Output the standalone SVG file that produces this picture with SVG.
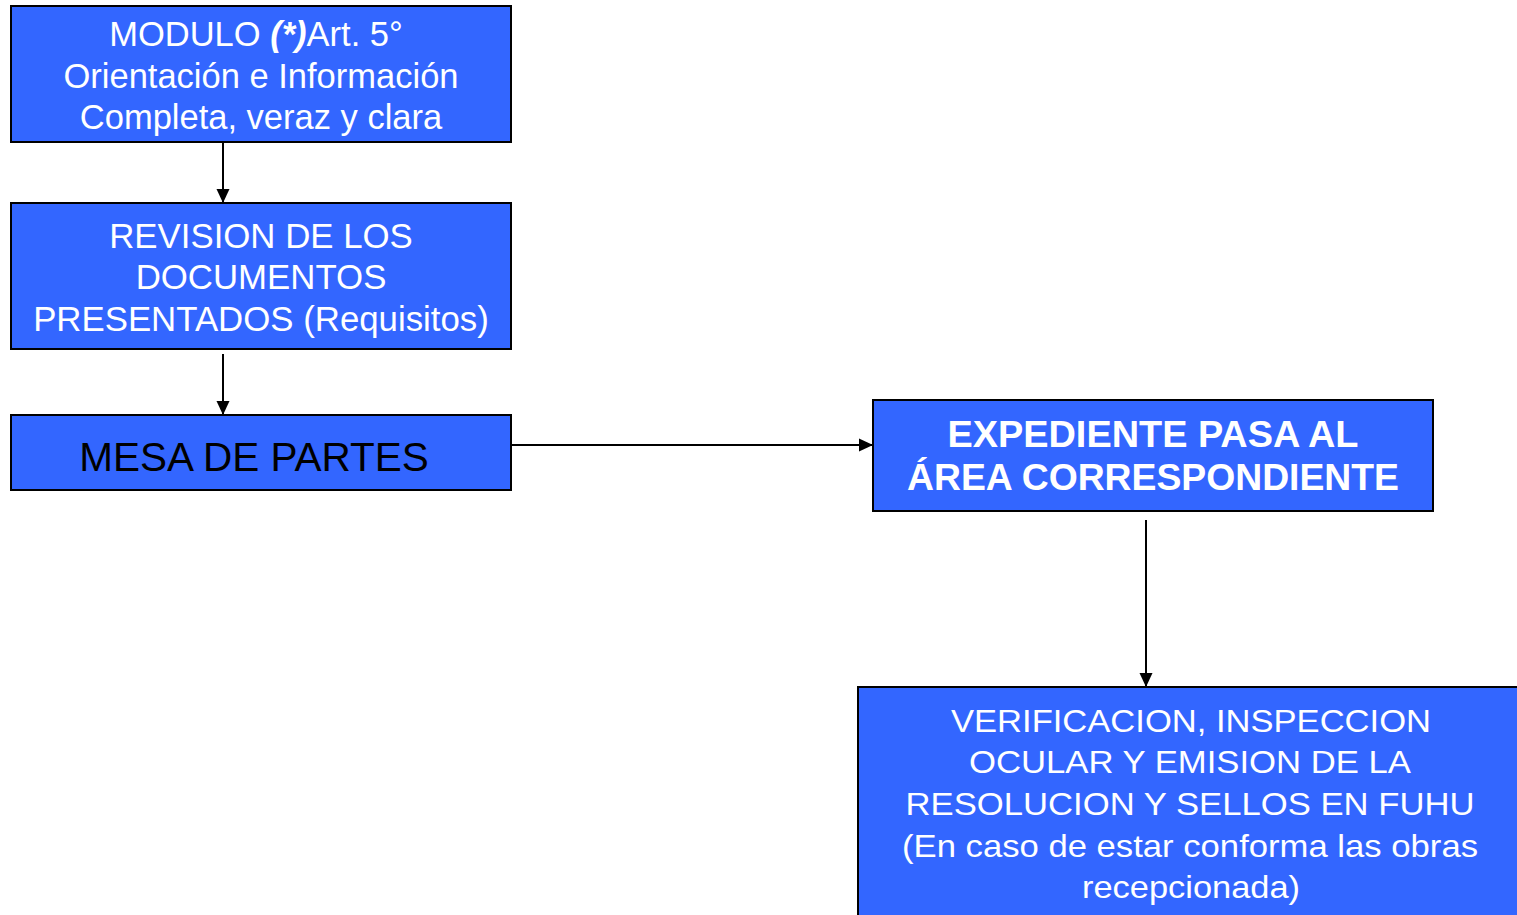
<svg xmlns="http://www.w3.org/2000/svg" width="1517" height="915" viewBox="0 0 1517 915">
<defs>
<style>
.box{fill:#3366FF;stroke:#000;stroke-width:2}
.t{font-family:"Liberation Sans",Arial,sans-serif;fill:#fff;text-anchor:middle}
.con{stroke:#000;stroke-width:2;fill:none}
</style>
<marker id="ah" markerWidth="14" markerHeight="14" refX="14" refY="7" orient="auto" markerUnits="userSpaceOnUse" viewBox="0 0 14 14">
<path d="M0,0.5 L14,7 L0,13.5 z" fill="#000"/>
</marker>
</defs>
<rect width="1517" height="915" fill="#fff"/>
<g id="n1">
<rect class="box" x="11" y="6" width="500" height="136"/>
<text class="t" x="256" y="46" font-size="34.5">MODULO <tspan font-weight="bold" font-style="italic">(*)</tspan>Art. 5°</text>
<text class="t" x="261" y="88" font-size="34.5">Orientación e Información</text>
<text class="t" x="261" y="129" font-size="34.5">Completa, veraz y clara</text>
</g>
<g id="n2">
<rect class="box" x="11" y="203" width="500" height="146"/>
<text class="t" x="261" y="248" font-size="34.8">REVISION DE LOS</text>
<text class="t" x="261" y="289" font-size="34.8">DOCUMENTOS</text>
<text class="t" x="261" y="331" font-size="34.8">PRESENTADOS (Requisitos)</text>
</g>
<g id="n3">
<rect class="box" x="11" y="415" width="500" height="75"/>
<text class="t" x="254" y="471" font-size="40.5" style="fill:#000">MESA DE PARTES</text>
</g>
<g id="n4">
<rect class="box" x="873" y="400" width="560" height="111"/>
<text class="t" x="1153" y="447" font-size="37" font-weight="bold" textLength="411" lengthAdjust="spacingAndGlyphs">EXPEDIENTE PASA AL</text>
<text class="t" x="1153" y="490" font-size="37" font-weight="bold" textLength="492" lengthAdjust="spacingAndGlyphs">ÁREA CORRESPONDIENTE</text>
</g>
<g id="n5">
<rect class="box" x="858" y="687" width="662" height="232"/>
<text class="t" x="1191" y="732" font-size="32" textLength="480" lengthAdjust="spacingAndGlyphs">VERIFICACION, INSPECCION</text>
<text class="t" x="1190" y="773" font-size="32" textLength="442" lengthAdjust="spacingAndGlyphs">OCULAR Y EMISION DE LA</text>
<text class="t" x="1190" y="815" font-size="32" textLength="569" lengthAdjust="spacingAndGlyphs">RESOLUCION Y SELLOS EN FUHU</text>
<text class="t" x="1190" y="857" font-size="32" textLength="576" lengthAdjust="spacingAndGlyphs">(En caso de estar conforma las obras</text>
<text class="t" x="1191" y="898" font-size="32" textLength="218" lengthAdjust="spacingAndGlyphs">recepcionada)</text>
</g>
<g id="connectors">
<line class="con" x1="223" y1="143" x2="223" y2="203" marker-end="url(#ah)"/>
<line class="con" x1="223" y1="354" x2="223" y2="415" marker-end="url(#ah)"/>
<line class="con" x1="512" y1="445" x2="873" y2="445" marker-end="url(#ah)"/>
<line class="con" x1="1146" y1="520" x2="1146" y2="687" marker-end="url(#ah)"/>
</g>
</svg>
